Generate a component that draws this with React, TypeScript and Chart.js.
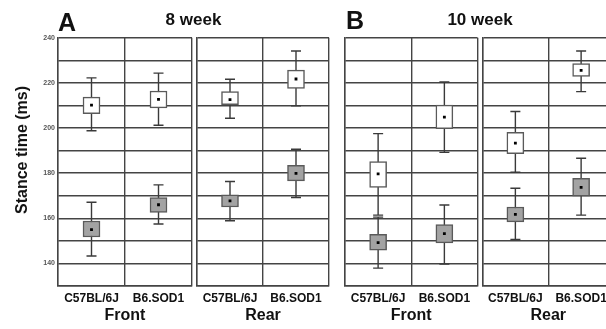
import React, { useEffect, useRef } from "react";
import { Chart, registerables } from "chart.js";

Chart.register(...registerables);

// ---------- data ----------
const groups = ["C57BL/6J", "B6.SOD1"];
const panelTitles = ["Front", "Rear", "Front", "Rear"];
const yTickLabels = [140, 160, 180, 200, 220, 240];

// panels: [A Front, A Rear, B Front, B Rear]; each inner array = [C57BL/6J, B6.SOD1]
const whiteMean = [
  [210.1, 212.7],
  [212.6, 221.7],
  [179.7, 204.8],
  [193.3, 225.5],
];
const whiteBox = [
  [[206.3, 213.7], [208.9, 216.4]],
  [[210.3, 216.1], [217.5, 225.6]],
  [[173.7, 185.1], [199.7, 210.1]],
  [[188.6, 198.1], [222.9, 228.5]],
];
const whiteWhisker = [
  [[198.8, 222.2], [201.2, 224.3]],
  [[204.3, 221.6], [209.8, 234.1]],
  [[161.4, 197.5], [189.2, 220.4]],
  [[180.4, 207.3], [216.1, 234.1]],
];
const grayMean = [
  [155.0, 166.0],
  [167.7, 179.9],
  [149.2, 153.2],
  [161.7, 173.7],
];
const grayBox = [
  [[151.7, 158.8], [162.6, 169.2]],
  [[165.0, 170.4], [176.6, 183.5]],
  [[145.9, 152.9], [149.1, 157.2]],
  [[158.4, 165.0], [169.8, 177.7]],
];
const grayWhisker = [
  [[143.3, 167.1], [157.5, 174.8]],
  [[158.9, 176.3], [169.2, 190.6]],
  [[137.9, 160.5], [139.7, 165.9]],
  [[150.6, 173.3], [161.4, 186.6]],
];

// ---------- layout ----------
const CW = 620;
const CH = 329;
const AREA_TOP = 37.7;
const AREA_BOTTOM = 286;
const panelLeft = [58, 197, 345, 482.5];
const panelRight = [192, 329, 477.5, 614];
const GRID = "#444";

const whiskerPlugin = {
  id: "whiskers",
  beforeDatasetsDraw(chart: any) {
    const opts = chart.options.plugins.whiskers;
    if (!opts) return;
    const { ctx } = chart;
    const x = chart.scales.x;
    const y = chart.scales.y;
    ctx.save();
    ctx.strokeStyle = "#3a3a3a";
    ctx.lineWidth = 1.4;
    for (const set of opts.sets) {
      set.forEach((w: number[], i: number) => {
        const cx = x.getPixelForValue(i);
        const y1 = y.getPixelForValue(w[0]);
        const y2 = y.getPixelForValue(w[1]);
        ctx.beginPath();
        ctx.moveTo(cx, y1);
        ctx.lineTo(cx, y2);
        ctx.moveTo(cx - 5, y1);
        ctx.lineTo(cx + 5, y1);
        ctx.moveTo(cx - 5, y2);
        ctx.lineTo(cx + 5, y2);
        ctx.stroke();
      });
    }
    ctx.restore();
  },
};

function Panel({ idx }: { idx: number }) {
  const ref = useRef<HTMLCanvasElement>(null);
  useEffect(() => {
    const first = idx === 0;
    const yWidth = first ? 40 : 0;
    const chart = new Chart(ref.current as HTMLCanvasElement, {
      type: "bar",
      data: {
        labels: groups,
        datasets: [
          {
            type: "bar",
            data: grayBox[idx] as any,
            backgroundColor: "#a3a3a3",
            borderColor: "#5a5a5a",
            borderWidth: 1.5,
            borderSkipped: false,
            barThickness: 17,
            grouped: false,
            order: 3,
          } as any,
          {
            type: "bar",
            data: whiteBox[idx] as any,
            backgroundColor: "#ffffff",
            borderColor: "#5a5a5a",
            borderWidth: 1.5,
            borderSkipped: false,
            barThickness: 17,
            grouped: false,
            order: 2,
          } as any,
          {
            type: "line",
            data: grayMean[idx],
            showLine: false,
            pointStyle: "rect",
            pointRadius: 2,
            backgroundColor: "#000",
            borderColor: "#000",
            borderWidth: 0,
            order: 1,
          } as any,
          {
            type: "line",
            data: whiteMean[idx],
            showLine: false,
            pointStyle: "rect",
            pointRadius: 2,
            backgroundColor: "#000",
            borderColor: "#000",
            borderWidth: 0,
            order: 0,
          } as any,
        ],
      },
      options: {
        animation: false,
        responsive: false,
        maintainAspectRatio: false,
        events: [],
        layout: {
          padding: {
            left: panelLeft[idx] - yWidth,
            right: CW - panelRight[idx],
            top: AREA_TOP,
            bottom: 0,
          },
        },
        plugins: {
          legend: { display: false },
          tooltip: { enabled: false },
          whiskers: { sets: [grayWhisker[idx], whiteWhisker[idx]] },
        } as any,
        scales: {
          x: {
            type: "category",
            offset: true,
            grid: { offset: true, color: GRID, lineWidth: 1.4, drawTicks: false },
            border: { color: GRID, width: 1.4 },
            ticks: {
              padding: 5,
              color: "#111",
              font: { family: "Liberation Sans, Arial", weight: "bold", size: 12 },
              maxRotation: 0,
              autoSkip: false,
            },
            title: {
              display: true,
              text: panelTitles[idx],
              color: "#111",
              font: { family: "Liberation Sans, Arial", weight: "bold", size: 16 },
              padding: { top: 0, bottom: 4 },
            },
            afterFit: (s: any) => {
              s.height = CH - AREA_BOTTOM;
            },
          },
          y: {
            type: "linear",
            min: 130,
            max: 240,
            grid: { color: GRID, lineWidth: 1.4, drawTicks: false },
            border: { color: GRID, width: 1.4 },
            ticks: {
              display: first,
              stepSize: 10,
              padding: 3,
              color: "#555",
              font: { family: "Liberation Sans, Arial", weight: "bold", size: 7 },
              callback: (v: any) => (yTickLabels.includes(Number(v)) ? String(v) : ""),
            },
            afterFit: (s: any) => {
              s.width = yWidth;
            },
          },
        },
      },
      plugins: [whiskerPlugin],
    });
    return () => chart.destroy();
  }, [idx]);
  return (
    <canvas
      ref={ref}
      width={CW}
      height={CH}
      style={{ position: "absolute", left: 0, top: 0, width: CW, height: CH }}
    />
  );
}

const labelStyle: React.CSSProperties = {
  position: "absolute",
  fontFamily: "Liberation Sans, Arial, sans-serif",
  fontWeight: "bold",
  color: "#111",
  whiteSpace: "nowrap",
};

export default function App() {
  return (
    <div
      style={{
        position: "fixed",
        left: 0,
        top: 0,
        width: 606,
        height: 329,
        overflow: "hidden",
        background: "#fff",
      }}
    >
      {[0, 1, 2, 3].map((i) => (
        <Panel key={i} idx={i} />
      ))}
      <div style={{ ...labelStyle, left: 58, top: 10, fontSize: 25, lineHeight: "25px" }}>A</div>
      <div style={{ ...labelStyle, left: 346, top: 8, fontSize: 25, lineHeight: "25px" }}>B</div>
      <div
        style={{
          ...labelStyle,
          left: 193.5,
          top: 11,
          fontSize: 17,
          lineHeight: "17px",
          transform: "translateX(-50%)",
        }}
      >
        8 week
      </div>
      <div
        style={{
          ...labelStyle,
          left: 480,
          top: 11,
          fontSize: 17,
          lineHeight: "17px",
          transform: "translateX(-50%)",
        }}
      >
        10 week
      </div>
      <div
        style={{
          ...labelStyle,
          left: 21.5,
          top: 150,
          fontSize: 16,
          lineHeight: "16px",
          transform: "translate(-50%, -50%) rotate(-90deg)",
        }}
      >
        Stance time (ms)
      </div>
    </div>
  );
}
